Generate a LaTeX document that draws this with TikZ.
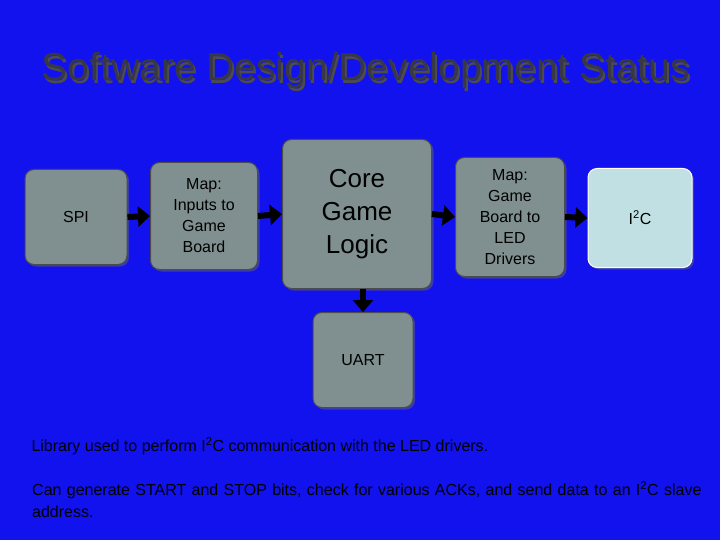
\documentclass[tikz,border=0pt]{standalone}
\usepackage{fontspec}
\setmainfont{Liberation Sans}
\usetikzlibrary{arrows.meta,shadows}
\definecolor{bg}{RGB}{18,18,238}
\definecolor{boxg}{RGB}{128,144,144}
\definecolor{boxl}{RGB}{192,224,228}
\definecolor{tgray}{RGB}{55,55,70}
\begin{document}
\begin{tikzpicture}[x=1pt,y=-1pt,
  blk/.style={draw=black!70,line width=1pt,fill=boxg,rounded corners=9pt,align=center,inner sep=0pt,
     drop shadow={shadow xshift=2pt,shadow yshift=-2pt,fill=black!60}},
  small/.style={font=\fontsize{16}{21}\selectfont},
  arr/.style={line width=6pt,-{Triangle[length=12pt,width=20pt]}}]
\fill[bg] (0,0) rectangle (720,540);
\useasboundingbox (0,0) rectangle (720,540);
\node[text=black!70,font=\fontsize{39}{42}\selectfont] at (368,73) {Software Design/Development Status};
\node[text=tgray,font=\fontsize{39}{42}\selectfont] (title) at (366,70) {Software Design/Development Status};
\node[blk,small,minimum width=102pt,minimum height=95pt] (spi) at (76,217) {SPI};
\node[blk,small,minimum width=107pt,minimum height=107pt] (m1) at (204,216) {Map:\\Inputs to\\Game\\Board};
\node[blk,font=\fontsize{26}{33}\selectfont,minimum width=149pt,minimum height=149pt] (core) at (357,214) {Core\\Game\\Logic};
\node[blk,small,minimum width=109pt,minimum height=119pt] (m2) at (510,217) {Map:\\Game\\Board to\\LED\\Drivers};
\node[blk,small,draw=white,fill=boxl,minimum width=104pt,minimum height=99pt] (i2c) at (640,218) {I\textsuperscript{2}C};
\node[blk,small,minimum width=100pt,minimum height=95pt] (uart) at (363,360) {UART};
\draw[arr] (spi.east) -- (m1.west);
\draw[arr] (m1.east) -- (core.west);
\draw[arr] (core.east) -- (m2.west);
\draw[arr] (m2.east) -- (i2c.west);
\draw[arr] (core.south-|uart) -- (uart.north);
\node[anchor=west,text=black,font=\fontsize{16}{19}\selectfont] (t1) at (28,446) {Library used to perform I\textsuperscript{2}C communication with the LED drivers.};
\node[anchor=north west,text=black,align=left,text width=680pt,inner sep=0pt,font=\fontsize{16}{22}\selectfont] (t2) at (32,481) {Can generate START and STOP bits, check for various ACKs, and send data to an I\textsuperscript{2}C slave address.};
\end{tikzpicture}
\end{document}
